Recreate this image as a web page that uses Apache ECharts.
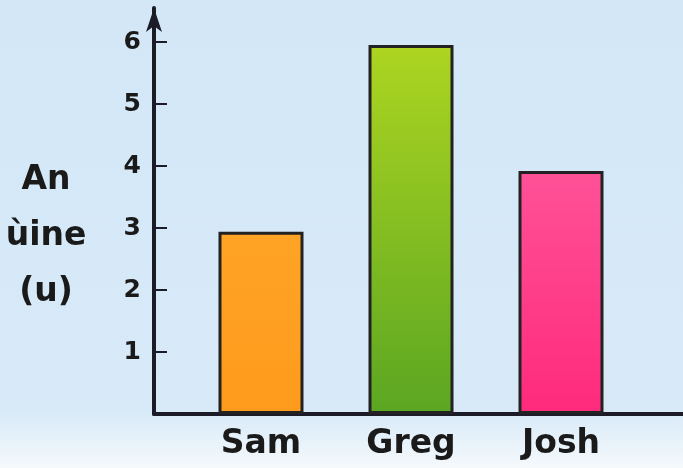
<!DOCTYPE html>
<html>
<head>
<meta charset="utf-8">
<script src="https://cdn.jsdelivr.net/npm/echarts@6/dist/echarts.min.js"></script>
<style>
  html, body { margin: 0; padding: 0; }
  #chart { width: 683px; height: 468px; }
</style>
</head>
<body>
<div id="chart"></div>
<script>
// Bar chart: amount per person
const categories = ['Sam', 'Greg', 'Josh'];
const values = [2.94, 5.95, 3.92];
const yTicks = [0, 1, 2, 3, 4, 5, 6];
const yTitle = 'An\nùine\n(u)';

const barColors = [
  ['#ffa426', '#ff9a1c'],
  ['#add521', '#5ba622'],
  ['#ff5197', '#ff2a7c']
];

const FONT = '"DejaVu Sans", sans-serif';
const INK = '#1c1c28';

const chart = echarts.init(document.getElementById('chart'), null, { renderer: 'canvas' });

const option = {
  animation: false,
  backgroundColor: {
    type: 'linear', x: 0, y: 0, x2: 0, y2: 1,
    colorStops: [
      { offset: 0, color: '#d3e7f7' },
      { offset: 0.88, color: '#d8eaf8' },
      { offset: 1, color: '#f5f9fc' }
    ]
  },
  // vertical axis title, stacked on three centred lines
  title: {
    text: yTitle,
    left: 46,
    top: 152,
    textAlign: 'center',
    padding: 0,
    textStyle: {
      fontFamily: FONT,
      fontWeight: 'bold',
      fontSize: 33,
      lineHeight: 56,
      align: 'center',
      color: '#1a1a1a'
    }
  },
  grid: [
    // plotting area for the bars
    { left: 186, right: 47, top: 42, bottom: 54 },
    // full-width frame carrying the axis lines
    { left: 154, right: 0, top: 8, bottom: 54 }
  ],
  xAxis: [
    {
      type: 'category',
      gridIndex: 0,
      data: categories,
      axisLine: { show: false },
      axisTick: { show: false },
      axisLabel: {
        margin: 14,
        fontFamily: FONT,
        fontWeight: 'bold',
        fontSize: 33,
        color: '#1a1a1a'
      }
    },
    {
      type: 'value',
      gridIndex: 1,
      min: 0,
      max: 1,
      axisLine: { show: true, lineStyle: { color: INK, width: 4 } },
      axisTick: { show: false },
      axisLabel: { show: false },
      splitLine: { show: false }
    }
  ],
  yAxis: [
    {
      type: 'value',
      gridIndex: 0,
      min: yTicks[0],
      max: yTicks[yTicks.length - 1],
      interval: 1,
      offset: 32,
      axisLine: { show: false },
      axisTick: {
        show: true,
        inside: true,
        length: 13,
        lineStyle: { color: INK, width: 2 }
      },
      axisLabel: {
        margin: 13,
        fontFamily: FONT,
        fontWeight: 'bold',
        fontSize: 25,
        color: '#1a1a1a',
        formatter: v => (v === 0 ? '' : String(v))
      },
      splitLine: { show: false }
    },
    {
      type: 'value',
      gridIndex: 1,
      min: 0,
      max: 1,
      axisLine: {
        show: true,
        symbol: ['none', 'arrow'],
        symbolSize: [12, 24],
        lineStyle: { color: INK, width: 4 }
      },
      axisTick: { show: false },
      axisLabel: { show: false },
      splitLine: { show: false }
    }
  ],
  series: [
    {
      type: 'bar',
      xAxisIndex: 0,
      yAxisIndex: 0,
      barWidth: 85,
      data: values.map((v, i) => ({
        value: v,
        itemStyle: {
          color: {
            type: 'linear', x: 0, y: 0, x2: 0, y2: 1,
            colorStops: [
              { offset: 0, color: barColors[i][0] },
              { offset: 1, color: barColors[i][1] }
            ]
          }
        }
      })),
      itemStyle: { borderColor: '#222', borderWidth: 3 }
    }
  ]
};

chart.setOption(option);
</script>
</body>
</html>
